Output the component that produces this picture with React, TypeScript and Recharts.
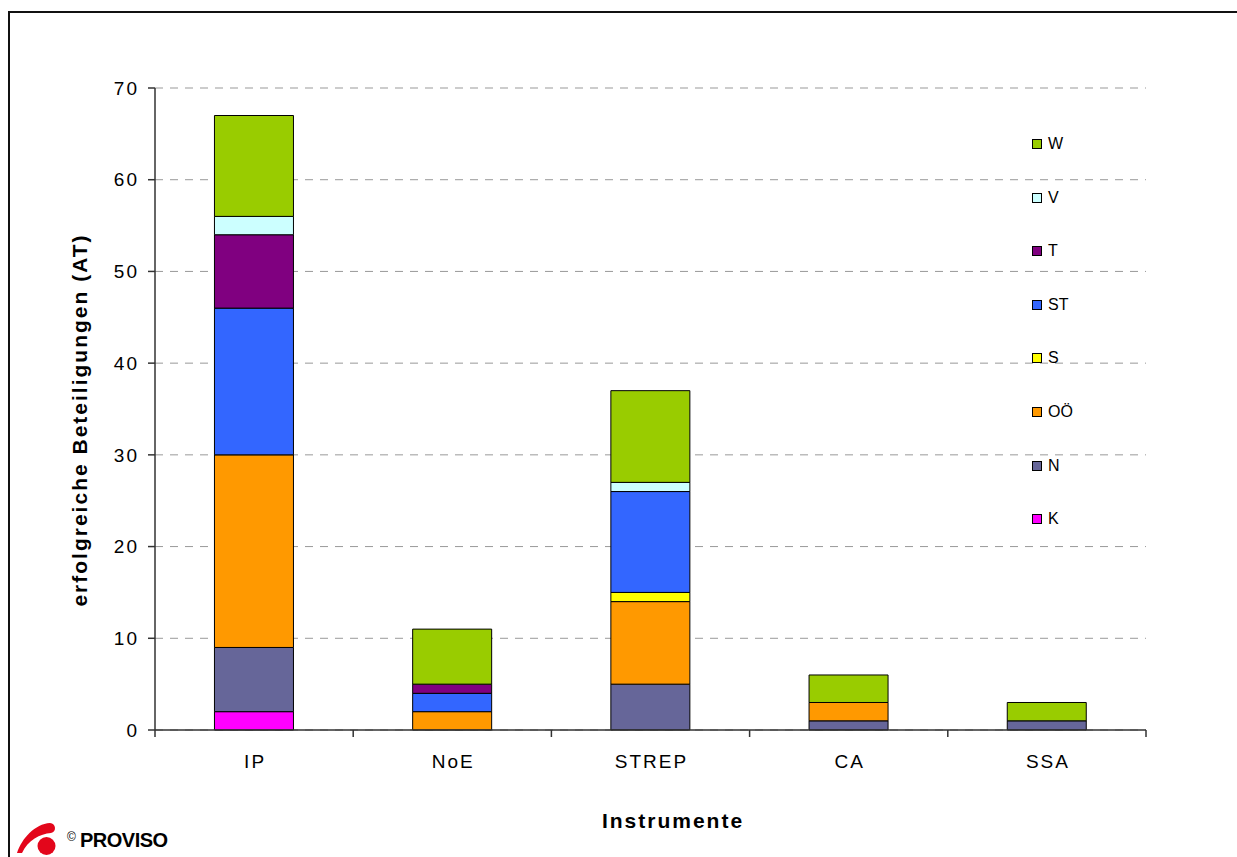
import React from 'react';
import { BarChart, Bar, XAxis, YAxis, CartesianGrid } from 'recharts';

const instruments = ['IP', 'NoE', 'STREP', 'CA', 'SSA'];

// regions in stacking order, bottom to top
const regions = ['K', 'N', 'OÖ', 'S', 'ST', 'T', 'V', 'W'];
const regionColors = [
  '#FF00FF',
  '#666699',
  '#FF9900',
  '#FFFF00',
  '#3366FF',
  '#800080',
  '#CCFFFF',
  '#99CC00',
];

const K = [2, 0, 0, 0, 0];
const N = [7, 0, 5, 1, 1];
const OOE = [21, 2, 9, 2, 0];
const S = [0, 0, 1, 0, 0];
const ST = [16, 2, 11, 0, 0];
const T = [8, 1, 0, 0, 0];
const V = [2, 0, 1, 0, 0];
const W = [11, 6, 10, 3, 2];

const yTicks = [0, 10, 20, 30, 40, 50, 60, 70];

const seriesValues = [K, N, OOE, S, ST, T, V, W];

const data = instruments.map((name, i) => {
  const row: Record<string, string | number> = { name };
  regions.forEach((r, j) => {
    row[r] = seriesValues[j][i];
  });
  return row;
});

const FONT = 'Arial, "Liberation Sans", sans-serif';
const CHART_W = 1229;
const CHART_H = 849;
const MARGIN = { top: 80, right: 91, bottom: 77, left: 0 };
const Y_AXIS_W = 147;
const PLOT_W = CHART_W - MARGIN.right - MARGIN.left - Y_AXIS_W;
const BAND = PLOT_W / instruments.length;
const AXIS_COLOR = '#333';

// category label plus tick marks on the band boundaries
const InstrumentTick = (props: any) => {
  const { x, y, payload, index } = props;
  const left = x - BAND / 2;
  const right = x + BAND / 2;
  return (
    <g>
      <line x1={left} y1={y} x2={left} y2={y + 7} stroke={AXIS_COLOR} strokeWidth={1.5} />
      {index === instruments.length - 1 && (
        <line x1={right} y1={y} x2={right} y2={y + 7} stroke={AXIS_COLOR} strokeWidth={1.5} />
      )}
      <text
        x={x + 1}
        y={y + 38}
        textAnchor="middle"
        fontSize={19}
        fontFamily={FONT}
        letterSpacing={2}
        fill="#000"
      >
        {payload.value}
      </text>
    </g>
  );
};

const LegendBox = () => {
  const order = regions.map((r, i) => ({ r, c: regionColors[i] })).reverse();
  return (
    <div style={{ position: 'absolute', left: 1024, top: 127 }}>
      {order.map((item, i) => (
        <div
          key={item.r}
          style={{
            position: 'absolute',
            top: i * 53.6,
            left: 0,
            height: 18,
            display: 'flex',
            alignItems: 'center',
            whiteSpace: 'nowrap',
            fontFamily: FONT,
            fontSize: 16,
            color: '#000',
          }}
        >
          <span
            style={{
              display: 'inline-block',
              width: 8,
              height: 8,
              border: '1px solid #000',
              background: item.c,
              marginRight: 6,
            }}
          />
          {item.r}
        </div>
      ))}
    </div>
  );
};

const Logo = () => (
  <svg
    width={200}
    height={41}
    style={{ position: 'absolute', left: 0, top: 810 }}
  >
    <path
      d="M9 35 C 14 20, 27 6, 42 5 C 48 5, 49 14, 43 15 C 32 16, 20 22, 14 35 Z"
      fill="#E3061B"
    />
    <circle cx={38.5} cy={28} r={9} fill="#E3061B" />
    <text x={59} y={23} fontSize={12} fontFamily={FONT} fill="#000">
      ©
    </text>
    <text
      x={72}
      y={29}
      fontSize={20}
      fontWeight="bold"
      fontFamily={FONT}
      letterSpacing={-0.5}
      fill="#000"
    >
      PROVISO
    </text>
  </svg>
);

export default function App() {
  return (
    <div
      style={{
        position: 'fixed',
        left: 8,
        top: 8,
        width: CHART_W,
        height: CHART_H,
        overflow: 'hidden',
        background: '#fff',
      }}
    >
      <div
        style={{
          position: 'absolute',
          left: 0,
          top: 3,
          width: 1400,
          height: 1000,
          borderLeft: '2px solid #111',
          borderTop: '2px solid #111',
        }}
      />
      <BarChart
        width={CHART_W}
        height={CHART_H}
        data={data}
        margin={MARGIN}
        barCategoryGap="30%"
      >
        <CartesianGrid vertical={false} stroke="#999" strokeDasharray="8 7" />
        <XAxis
          dataKey="name"
          height={50}
          interval={0}
          tickSize={0}
          tickMargin={0}
          tickLine={false}
          axisLine={{ stroke: AXIS_COLOR, strokeWidth: 1.5 }}
          tick={(p: any) => <InstrumentTick {...p} />}
        />
        <YAxis
          domain={[0, 70]}
          ticks={yTicks}
          width={Y_AXIS_W}
          tickSize={7}
          tickMargin={9}
          axisLine={{ stroke: AXIS_COLOR, strokeWidth: 1.5 }}
          tickLine={{ stroke: AXIS_COLOR, strokeWidth: 1.5 }}
          tick={{ fontSize: 19, fontFamily: FONT, fill: '#000', letterSpacing: 2 }}
        />
        <YAxis
          yAxisId="frame"
          orientation="right"
          domain={[0, 70]}
          width={0}
          tick={false}
          tickLine={false}
          axisLine={{ stroke: '#999', strokeWidth: 1.5 }}
        />
        {regions.map((r, i) => (
          <Bar
            key={r}
            dataKey={r}
            stackId="a"
            fill={regionColors[i]}
            stroke="#000"
            strokeWidth={1}
            isAnimationActive={false}
          />
        ))}
      </BarChart>
      <div
        style={{
          position: 'absolute',
          left: 71,
          top: 412,
          transform: 'translate(-50%, -50%) rotate(-90deg)',
          whiteSpace: 'nowrap',
          fontFamily: FONT,
          fontWeight: 'bold',
          fontSize: 21,
          letterSpacing: 2,
          lineHeight: 1,
        }}
      >
        erfolgreiche Beteiligungen (AT)
      </div>
      <div
        style={{
          position: 'absolute',
          left: 665,
          top: 812,
          transform: 'translate(-50%, -50%)',
          whiteSpace: 'nowrap',
          fontFamily: FONT,
          fontWeight: 'bold',
          fontSize: 21,
          letterSpacing: 2,
          lineHeight: 1,
        }}
      >
        Instrumente
      </div>
      <LegendBox />
      <Logo />
    </div>
  );
}
